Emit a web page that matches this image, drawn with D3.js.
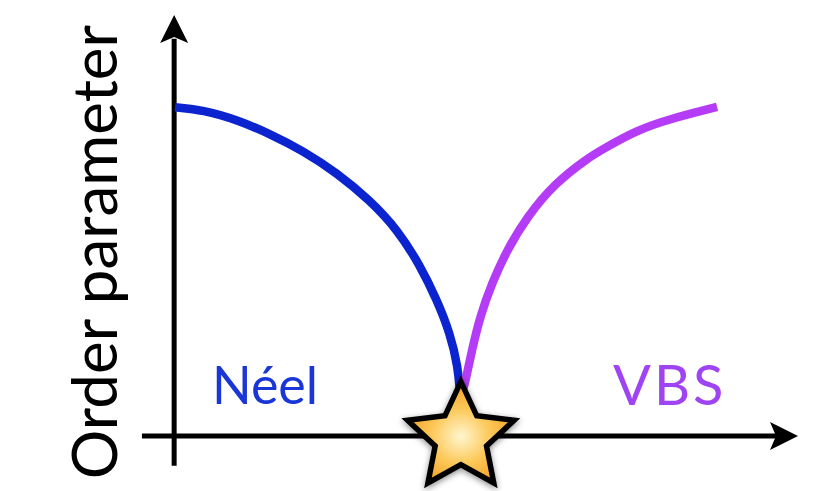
<!DOCTYPE html>
<html>
<head>
<meta charset="utf-8">
<script src="https://cdn.jsdelivr.net/npm/d3@7"></script>
<style>
  html, body { margin: 0; padding: 0; background: #fff; }
</style>
</head>
<body>
<div id="chart"></div>
<script>
// Order parameter vs tuning parameter: Néel -> critical point -> VBS
const width = 820;
const height = 491;

const neelG = [0, 0.098, 0.218, 0.333, 0.449, 0.568, 0.684, 0.782, 0.860, 0.919, 0.965, 0.993, 1.0];
const neelM = [0.993, 0.985, 0.955, 0.913, 0.862, 0.795, 0.712, 0.622, 0.515, 0.411, 0.311, 0.208, 0.13];

const vbsG = [1.007, 1.018, 1.042, 1.070, 1.112, 1.165, 1.235, 1.333, 1.449, 1.502, 1.621, 1.737, 1.902];
const vbsM = [0.13, 0.160, 0.260, 0.360, 0.462, 0.562, 0.662, 0.764, 0.840, 0.867, 0.924, 0.958, 0.994];

const criticalG = 1.003;
const phaseLabels = ["Néel", "VBS"];
const yLabel = "Order parameter";

const x = d3.scaleLinear().domain([0, 2.2]).range([175, 802]);
const y = d3.scaleLinear().domain([0, 1]).range([436, 105]);

const svg = d3.select("#chart")
    .append("svg")
    .attr("width", width)
    .attr("height", height);

const defs = svg.append("defs");

const grad = defs.append("radialGradient")
    .attr("id", "starFill")
    .attr("cx", "50%").attr("cy", "54%").attr("r", "55%");
grad.append("stop").attr("offset", "0%").attr("stop-color", "#fff6d0");
grad.append("stop").attr("offset", "50%").attr("stop-color", "#fcc858");
grad.append("stop").attr("offset", "100%").attr("stop-color", "#f19c22");

const shadow = defs.append("filter")
    .attr("id", "shadow")
    .attr("x", "-30%").attr("y", "-30%")
    .attr("width", "160%").attr("height", "160%");
shadow.append("feDropShadow")
    .attr("dx", 0).attr("dy", 2)
    .attr("stdDeviation", 3)
    .attr("flood-color", "#000")
    .attr("flood-opacity", 0.45);

// arrow-headed axes
const arrowPath = "M0,0 L-28,-14 L-22,0 L-28,14 Z";
const axisW = 5;

svg.append("line")
    .attr("x1", x(-0.116)).attr("y1", y(0))
    .attr("x2", x(2.15)).attr("y2", y(0))
    .attr("stroke", "#000").attr("stroke-width", axisW);
svg.append("path")
    .attr("d", arrowPath)
    .attr("transform", `translate(${x(2.186)},${y(0)})`)
    .attr("fill", "#000");

svg.append("line")
    .attr("x1", x(-0.003)).attr("y1", y(-0.09))
    .attr("x2", x(-0.003)).attr("y2", y(1.2))
    .attr("stroke", "#000").attr("stroke-width", axisW);
svg.append("path")
    .attr("d", arrowPath)
    .attr("transform", `translate(${x(-0.003)},${y(1.272)}) rotate(-90)`)
    .attr("fill", "#000");

const line = d3.line()
    .x(d => x(d[0]))
    .y(d => y(d[1]))
    .curve(d3.curveBasis);

svg.append("path")
    .datum(d3.zip(neelG, neelM))
    .attr("d", line)
    .attr("fill", "none")
    .attr("stroke", "#0b24cf")
    .attr("stroke-width", 8.5);

svg.append("path")
    .datum(d3.zip(vbsG, vbsM))
    .attr("d", line)
    .attr("fill", "none")
    .attr("stroke", "#b43cf6")
    .attr("stroke-width", 8.5);

// star at critical point
const starPts = d3.range(10).map(i => {
    const a = -Math.PI / 2 + i * Math.PI / 5;
    const r = i % 2 === 0 ? 56 : 27;
    return [r * Math.cos(a), r * Math.sin(a)];
});
svg.append("path")
    .attr("d", "M" + starPts.join("L") + "Z")
    .attr("transform", `translate(${x(criticalG)},${y(-0.005)})`)
    .attr("fill", "url(#starFill)")
    .attr("stroke", "#000")
    .attr("stroke-width", 5.5)
    .attr("stroke-linejoin", "miter")
    .attr("filter", "url(#shadow)");

svg.append("text")
    .attr("x", 212).attr("y", 404)
    .style("font-family", "Lato, sans-serif")
    .style("font-size", "52px")
    .style("fill", "#1a36d6")
    .text(phaseLabels[0]);

svg.append("text")
    .attr("x", 613).attr("y", 405)
    .style("font-family", "Lato, sans-serif")
    .style("font-size", "56px")
    .style("letter-spacing", "3px")
    .style("fill", "#9f44f2")
    .text(phaseLabels[1]);

svg.append("text")
    .attr("transform", "translate(117,252) rotate(-90)")
    .attr("text-anchor", "middle")
    .style("font-family", "Lato, sans-serif")
    .style("font-size", "62px")
    .style("fill", "#000")
    .text(yLabel);
</script>
</body>
</html>
